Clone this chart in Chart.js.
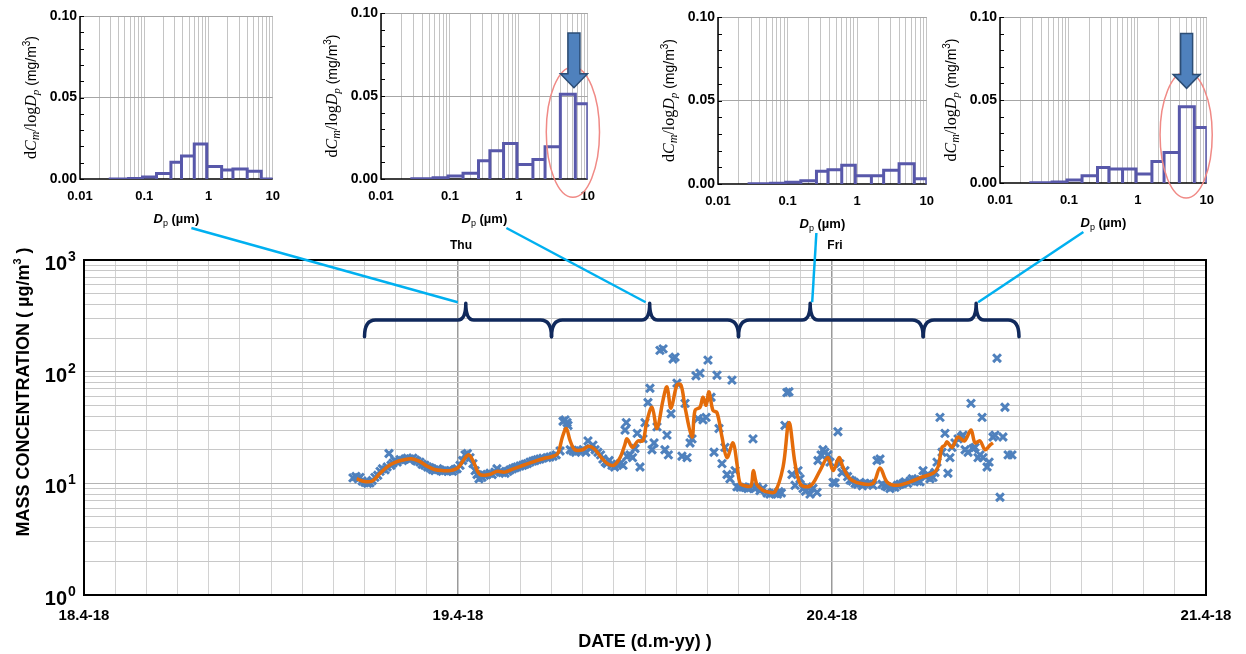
<!DOCTYPE html>
<html lang="en">
<head>
<meta charset="UTF-8">
<title>Mass concentration and size distributions</title>
<script src="https://cdn.jsdelivr.net/npm/chart.js"></script>
<style>
    body { margin: 0; background: #fff; }
    #wrap { position: relative; width: 1246px; height: 654px; overflow: hidden; }
    canvas { position: absolute; top: 0; }
    #main { left: 0; z-index: 1; }
    .inset { z-index: 2; }
</style>
</head>
<body>
<div id="wrap">
    <canvas id="main" width="1246" height="654"></canvas>
</div>
<script>
// ---------- main time series: hours since 18.4.2018 00:00, µg/m³ ----------
const pmHours = [
    17.26, 17.45, 17.60, 17.71, 17.85, 18.03, 18.20, 18.35, 18.50, 18.67,
    18.85, 19.00, 19.15, 19.32, 19.45, 19.57, 19.70, 19.83, 19.95, 20.10,
    20.28, 20.45, 20.60, 20.75, 20.92, 21.10, 21.25, 21.37, 21.56, 21.70,
    21.88, 22.05, 22.20, 22.35, 22.52, 22.70, 22.85, 23.00, 23.17, 23.35,
    23.49, 23.65, 23.80, 23.94, 24.13, 24.30, 24.45, 24.60, 24.77, 24.96,
    25.10, 25.22, 25.35, 25.54, 25.70, 25.86, 26.05, 26.20, 26.37, 26.50,
    26.70, 26.85, 27.02, 27.20, 27.34, 27.50, 27.66, 27.80, 27.98, 28.15,
    28.30, 28.45, 28.62, 28.80, 28.94, 29.10, 29.26, 29.45, 29.71, 29.90,
    30.10, 30.30, 30.55, 30.74, 30.87, 31.00, 31.06, 31.20, 31.38, 31.55,
    31.70, 31.85, 32.02, 32.20, 32.34, 32.50, 32.66, 32.80, 32.98, 33.15,
    33.30, 33.45, 33.56, 33.70, 33.88, 34.05, 34.20, 34.40, 34.59, 34.72,
    34.80, 34.85, 35.04, 35.20, 35.36, 35.50, 35.68, 35.87, 36.00, 36.19,
    36.32, 36.45, 36.58, 36.77, 36.96, 37.16, 37.28, 37.41, 37.50, 37.67,
    37.80, 37.93, 38.05, 38.37, 38.57, 38.70, 38.89, 39.02, 39.27, 39.40,
    39.53, 39.72, 39.92, 40.04, 40.24, 40.43, 40.62, 40.75, 40.94, 41.13,
    41.26, 41.45, 41.58, 41.78, 41.90, 42.10, 42.30, 42.42, 42.60, 42.74,
    42.93, 43.05, 43.19, 43.38, 43.57, 43.83, 44.02, 44.20, 44.34, 44.50,
    44.60, 44.75, 44.98, 45.11, 45.24, 45.43, 45.63, 45.82, 45.95, 46.14,
    46.30, 46.40, 46.59, 46.78, 47.04, 47.10, 47.30, 47.42, 47.55, 47.74,
    47.87, 48.07, 48.20, 48.38, 48.50, 48.64, 48.83, 49.00, 49.16, 49.30,
    49.48, 49.65, 49.80, 49.95, 50.12, 50.30, 50.44, 50.63, 50.89, 51.08,
    51.21, 51.40, 51.53, 51.72, 51.90, 52.04, 52.20, 52.36, 52.56, 52.69,
    52.85, 53.01, 53.15, 53.33, 53.50, 53.65, 53.84, 54.00, 54.16, 54.29,
    54.48, 54.61, 54.74, 54.93, 55.06, 55.25, 55.44, 55.57, 55.70, 55.89,
    56.09, 56.30, 56.41, 56.54, 56.73, 56.92, 57.05, 57.18, 57.37, 57.50,
    57.63, 57.69, 57.95, 58.08, 58.33, 58.46, 58.59, 58.78, 58.97, 59.10,
    59.30, 59.55
];
const pmValues = [
    11.2, 11.5, 11.0, 11.3, 10.5, 10.2, 10.0, 10.1, 10.6, 11.3,
    11.8, 12.8, 13.5, 13.2, 14.0, 18.5, 14.5, 15.2, 16.0, 15.5,
    16.3, 16.0, 16.5, 16.8, 16.5, 16.8, 16.2, 15.8, 15.5, 14.8,
    14.5, 14.0, 13.8, 13.3, 13.0, 13.5, 13.2, 12.8, 13.0, 12.9,
    13.0, 12.8, 13.3, 13.5, 14.5, 16.0, 18.0, 18.5, 17.0, 15.0,
    13.0, 12.0, 11.0, 11.3, 11.8, 12.0, 12.3, 12.0, 12.6, 13.5,
    12.8, 12.5, 12.3, 12.8, 13.2, 13.5, 13.8, 14.0, 14.3, 14.5,
    14.8, 15.0, 15.5, 15.8, 16.0, 16.3, 16.5, 16.8, 17.0, 17.2,
    17.5, 18.0, 19.5, 36.0, 37.0, 35.0, 33.0, 20.0, 19.5, 19.0,
    19.8, 19.5, 20.0, 19.0, 24.0, 20.5, 22.0, 20.0, 19.0, 18.0,
    16.5, 15.5, 15.0, 16.0, 14.5, 14.0, 14.8, 15.0, 14.5, 30.0,
    35.0, 17.5, 18.0, 17.0, 20.5, 28.0, 14.0, 25.0, 35.0, 53.0,
    71.0, 20.0, 23.0, 32.0, 155, 160, 20.0, 27.0, 18.0, 42.0,
    130, 135, 79.0, 17.5, 52.0, 17.0, 23.0, 25.0, 92.0, 38.0,
    97.0, 37.0, 39.0, 127, 59.0, 19.0, 93.0, 31.0, 15.0, 21.0,
    12.0, 11.0, 84.0, 13.0, 9.3, 9.2, 9.3, 9.2, 9.0, 9.1,
    25.0, 9.0, 9.3, 8.6, 9.0, 8.2, 8.0, 8.3, 8.1, 8.0,
    8.4, 8.2, 33.0, 65.0, 66.0, 12.0, 9.6, 13.0, 11.0, 9.0,
    8.5, 9.3, 8.0, 9.0, 8.3, 16.0, 18.0, 20.0, 19.0, 18.0,
    15.5, 10.2, 10.1, 29.0, 15.0, 12.5, 13.0, 11.5, 10.7, 10.5,
    10.0, 9.8, 10.2, 9.5, 10.0, 9.8, 10.0, 9.6, 16.0, 16.5,
    9.8, 9.5, 9.3, 9.0, 9.3, 9.2, 9.6, 9.8, 10.0, 10.3,
    10.0, 10.5, 11.0, 10.8, 10.5, 10.3, 13.0, 11.5, 12.0, 11.0,
    11.3, 12.5, 15.5, 39.0, 19.0, 28.0, 12.3, 17.0, 21.0, 23.0,
    25.0, 26.0, 27.0, 20.0, 19.0, 52.0, 20.5, 21.0, 17.0, 18.0,
    39.0, 17.0, 14.0, 15.5, 26.0, 27.0, 132, 7.5, 26.0, 48.0,
    18.0, 18.0
];
// running mean (orange line)
const avgHours = [
    17.5, 18.0, 18.5, 19.0, 19.5, 20.0, 20.5, 21.0, 21.5, 22.0,
    22.5, 23.0, 23.5, 24.0, 24.4, 24.7, 25.0, 25.4, 26.0, 26.5,
    27.0, 27.5, 28.0, 28.5, 29.0, 29.5, 30.0, 30.4, 30.7, 30.95,
    31.2, 31.5, 32.0, 32.4, 32.8, 33.2, 33.6, 34.0, 34.4, 34.7,
    34.85, 35.2, 35.55, 35.87, 36.1, 36.45, 36.77, 37.16, 37.41, 37.67,
    38.05, 38.31, 38.57, 39.02, 39.21, 39.53, 39.72, 39.92, 40.11, 40.36,
    40.62, 40.94, 41.26, 41.65, 41.9, 42.1, 42.42, 42.8, 42.95, 43.19,
    43.6, 43.83, 44.34, 44.86, 45.24, 45.63, 45.95, 46.4, 46.78, 47.23,
    47.74, 48.07, 48.45, 48.7, 49.16, 49.8, 50.63, 51.08, 51.53, 52.17,
    53.01, 53.78, 54.48, 54.8, 55.06, 55.25, 55.38, 55.7, 56.09, 56.5,
    56.92, 57.18, 57.5, 57.82, 58.14, 58.33
];
const avgValues = [
    11.0, 10.4, 10.5, 12.3, 14.2, 15.5, 16.2, 16.6, 15.8, 14.3,
    13.3, 13.0, 13.0, 13.8, 16.5, 18.0, 15.5, 12.0, 12.0, 12.8,
    12.6, 13.4, 14.2, 15.0, 15.9, 16.7, 17.3, 18.5, 26.0, 31.0,
    24.0, 20.0, 20.0, 21.5, 20.0, 17.0, 15.0, 14.5, 17.0, 22.0,
    25.0, 21.0, 24.0, 24.0, 35.0, 48.0, 31.0, 56.0, 73.0, 47.0,
    76.0, 76.0, 48.0, 26.0, 45.0, 48.0, 59.0, 50.0, 66.0, 45.0,
    43.0, 26.0, 17.0, 23.0, 15.0, 10.0, 9.5, 9.5, 13.0, 9.7,
    8.6, 8.4, 8.4, 14.0, 35.0, 15.0, 10.0, 9.3, 10.0, 13.0,
    17.0, 13.0, 17.0, 14.0, 11.0, 10.0, 10.0, 13.7, 10.3, 9.6,
    10.3, 11.4, 12.3, 14.0, 21.0, 22.0, 23.5, 21.0, 26.0, 24.0,
    30.0, 23.0, 24.0, 20.0, 22.0, 23.0
];
const dateLabels = ['18.4-18', '19.4-18', '20.4-18', '21.4-18'];
const dayMarkHours = [24, 48];
const dayMarkNames = ['Thu', 'Fri'];
const concTicks = [1, 10, 100, 1000];
const concExp = ['0', '1', '2', '3'];
// sampling periods marked by the braces (hours)
const periodStart = [18.0, 30.0, 42.0, 53.85];
const periodEnd = [30.0, 42.0, 53.85, 60.0];
const periodMid = [24.5, 36.3, 46.6, 57.25];

// ---------- size distributions (impactor stages, µm / mg/m³) ----------
const binEdges = [0.028, 0.057, 0.094, 0.155, 0.26, 0.38, 0.6, 0.94, 1.6, 2.4, 4.0, 6.6, 10];
const dist1 = [0, 0.0003, 0.0012, 0.0033, 0.0102, 0.0141, 0.0214, 0.0076, 0.0055, 0.0061, 0.0047, 0];
const dist2 = [0.0002, 0.0008, 0.0018, 0.0034, 0.011, 0.017, 0.0214, 0.0088, 0.0118, 0.0194, 0.051, 0.0454];
const dist3 = [0.0001, 0.0004, 0.001, 0.002, 0.0076, 0.0086, 0.0112, 0.005, 0.005, 0.0082, 0.0122, 0.0032];
const dist4 = [0.0002, 0.0006, 0.0018, 0.0044, 0.0094, 0.0084, 0.0084, 0.0054, 0.013, 0.0183, 0.046, 0.0335];
const sizeTickValues = [0.01, 0.1, 1, 10];
const sizeTickLabels = ['0.01', '0.1', '1', '10'];
const distTickValues = [0, 0.05, 0.1];
const distTickLabels = ['0.00', '0.05', '0.10'];
// coarse mode highlight: ellipse [xMin, xMax, yMin, yMax], arrow [x, yTop, yTip]
const highlightEllipse = [null, [2.5, 14.8, -0.011, 0.0675], null, [2.1, 12, -0.009, 0.067]];
const highlightArrow = [null, [6.3, 0.088, 0.055], null, [5.1, 0.090, 0.057]];

// ---------- layout / style ----------
const SANS = "'Liberation Sans', Arial, sans-serif";
const NARROW = "'Liberation Sans Narrow', 'Arial Narrow', 'Liberation Sans', Arial, sans-serif";
const SERIF = "'Liberation Serif', 'DejaVu Serif', serif";
const insetBoxes = [
    { L: 80, T: 16, R: 275, B: 179 },
    { L: 381, T: 13, R: 590, B: 179 },
    { L: 718, T: 17, R: 929, B: 184 },
    { L: 1000, T: 17, R: 1209, B: 183 }
];
const INSET_H = 235;
const leaderDx = [15, 22, -6, -20];
const leaderEndDx = [-8, -4, 2, 2];
const braceTip = 410, braceBar = 290, braceFoot = 205;

Chart.defaults.color = '#000';
Chart.defaults.font.family = SANS;

function drawRich(ctx, segs, x, y, angle) {
    ctx.save();
    ctx.translate(x, y);
    if (angle) ctx.rotate(angle);
    let w = 0;
    for (const s of segs) { ctx.font = s.font; w += ctx.measureText(s.text).width; }
    let cx = -w / 2;
    ctx.fillStyle = '#000';
    ctx.textAlign = 'left';
    ctx.textBaseline = 'alphabetic';
    for (const s of segs) {
        ctx.font = s.font;
        ctx.fillText(s.text, cx, s.dy || 0);
        cx += ctx.measureText(s.text).width;
    }
    ctx.restore();
}

const distTitle = [
    { text: 'd', font: `16px ${SERIF}` },
    { text: 'C', font: `italic 16px ${SERIF}` },
    { text: 'm', font: `italic 12px ${SERIF}`, dy: 3 },
    { text: '/log', font: `16px ${SERIF}` },
    { text: 'D', font: `italic 16px ${SERIF}` },
    { text: 'p', font: `italic 11px ${SERIF}`, dy: 3 },
    { text: ' (mg/m', font: `14px ${SANS}` },
    { text: '3', font: `10px ${SANS}`, dy: -6 },
    { text: ')', font: `14px ${SANS}` }
];
const sizeTitle = [
    { text: 'D', font: `bold italic 13px ${SANS}` },
    { text: 'p', font: `9px ${SANS}`, dy: 3 },
    { text: ' (µm)', font: `bold 13px ${SANS}` }
];
const concTitle = [
    { text: 'MASS CONCENTRATION ( µg/m', font: `bold 18px ${SANS}` },
    { text: '3', font: `bold 11px ${SANS}`, dy: -8 },
    { text: ' )', font: `bold 18px ${SANS}` }
];

// log grid positions 0.01 .. 10 and 1 .. 1000
const sizeGrid = [];
[0.01, 0.1, 1].forEach(d => { for (let k = 1; k <= 9; k++) sizeGrid.push(+(k * d).toPrecision(3)); });
sizeGrid.push(10);
const concGrid = [];
[1, 10, 100].forEach(d => { for (let k = 1; k <= 9; k++) concGrid.push(k * d); });
concGrid.push(1000);

function findTick(list, v) {
    return list.findIndex(t => Math.abs(t - v) <= Math.abs(t) * 1e-6 + 1e-9);
}

function outlinePoints(edges, h) {
    const pts = [];
    for (let i = 0; i < h.length; i++) {
        pts.push({ x: edges[i], y: 0 }, { x: edges[i], y: h[i] },
                 { x: edges[i + 1], y: h[i] }, { x: edges[i + 1], y: 0 });
    }
    return pts;
}

const insetDecor = {
    id: 'insetDecor',
    beforeDatasetsDraw(chart) {
        const { ctx, chartArea: a } = chart;
        const ys = chart.scales.y;
        ctx.save();
        ctx.strokeStyle = '#000';
        ctx.lineWidth = 1.5;
        ctx.beginPath();
        ctx.moveTo(a.left, a.top);
        ctx.lineTo(a.left, a.bottom);
        ctx.lineTo(a.right, a.bottom);
        ctx.stroke();
        ctx.lineWidth = 1;
        for (const t of ys.ticks) {
            const py = Math.round(ys.getPixelForValue(t.value)) + 0.5;
            ctx.beginPath();
            ctx.moveTo(a.left, py);
            ctx.lineTo(a.left + 4, py);
            ctx.stroke();
        }
        ctx.restore();
    },
    afterDraw(chart, args, opts) {
        const { ctx, chartArea: a } = chart;
        const xs = chart.scales.x, ys = chart.scales.y;
        const i = opts.index;
        drawRich(ctx, distTitle, a.left - 44, (a.top + a.bottom) / 2, -Math.PI / 2);
        drawRich(ctx, sizeTitle, (a.left + a.right) / 2, a.bottom + 44);
        ctx.save();
        const e = highlightEllipse[i];
        if (e) {
            const x0 = xs.getPixelForValue(e[0]), x1 = xs.getPixelForValue(e[1]);
            const y0 = ys.getPixelForValue(e[2]), y1 = ys.getPixelForValue(e[3]);
            ctx.beginPath();
            ctx.ellipse((x0 + x1) / 2, (y0 + y1) / 2, Math.abs(x1 - x0) / 2, Math.abs(y1 - y0) / 2, 0, 0, Math.PI * 2);
            ctx.strokeStyle = '#f08a86';
            ctx.lineWidth = 1.5;
            ctx.stroke();
        }
        const ar = highlightArrow[i];
        if (ar) {
            const cx = xs.getPixelForValue(ar[0]);
            const top = ys.getPixelForValue(ar[1]), tip = ys.getPixelForValue(ar[2]);
            const sw = 6, hw = 13.5, hh = 14;
            ctx.beginPath();
            ctx.moveTo(cx - sw, top);
            ctx.lineTo(cx + sw, top);
            ctx.lineTo(cx + sw, tip - hh);
            ctx.lineTo(cx + hw, tip - hh);
            ctx.lineTo(cx, tip);
            ctx.lineTo(cx - hw, tip - hh);
            ctx.lineTo(cx - sw, tip - hh);
            ctx.closePath();
            ctx.fillStyle = '#4f81bd';
            ctx.fill();
            ctx.strokeStyle = '#2c4d75';
            ctx.lineWidth = 1.5;
            ctx.stroke();
        }
        ctx.restore();
    }
};

const wrap = document.getElementById('wrap');
const insetDists = [dist1, dist2, dist3, dist4];
const insetLeft = insetBoxes.map(b => b.L - 80);

const insetCharts = insetBoxes.map((b, i) => {
    const cv = document.createElement('canvas');
    cv.width = b.R - b.L + 95;
    cv.height = INSET_H;
    cv.className = 'inset';
    cv.style.left = insetLeft[i] + 'px';
    wrap.appendChild(cv);
    return new Chart(cv, {
        type: 'scatter',
        data: {
            datasets: [{
                data: outlinePoints(binEdges, insetDists[i]),
                showLine: true,
                borderColor: '#5858aa',
                borderWidth: 3,
                borderJoinStyle: 'miter',
                pointRadius: 0,
                tension: 0
            }]
        },
        options: {
            responsive: false,
            animation: false,
            layout: { padding: { top: b.T, right: 15, left: 0, bottom: 0 } },
            plugins: {
                legend: { display: false },
                tooltip: { enabled: false },
                insetDecor: { index: i }
            },
            scales: {
                x: {
                    type: 'logarithmic',
                    min: 0.01,
                    max: 10,
                    afterBuildTicks: s => { s.ticks = sizeGrid.map(v => ({ value: v })); },
                    afterFit: s => { s.height = INSET_H - b.B; },
                    border: { display: false },
                    grid: { color: '#c4c4c4', lineWidth: 1, drawTicks: false },
                    ticks: {
                        autoSkip: false,
                        maxRotation: 0,
                        padding: 10,
                        font: { size: 13, weight: 'bold' },
                        callback: v => { const k = findTick(sizeTickValues, v); return k >= 0 ? sizeTickLabels[k] : ''; }
                    }
                },
                y: {
                    min: 0,
                    max: 0.1,
                    afterFit: s => { s.width = 80; },
                    border: { display: false },
                    grid: {
                        drawTicks: false,
                        color: c => (c.tick && c.tick.value > 0.001 && findTick(distTickValues, c.tick.value) >= 0) ? '#a6a6a6' : 'rgba(0,0,0,0)'
                    },
                    ticks: {
                        stepSize: 0.01,
                        autoSkip: false,
                        padding: 3,
                        font: { size: 14, weight: 'bold' },
                        callback: v => { const k = findTick(distTickValues, v); return k >= 0 ? distTickLabels[k] : ''; }
                    }
                }
            }
        },
        plugins: [insetDecor]
    });
});

function drawBrace(ctx, x0, x1, xm, yTip, yBar, yFoot) {
    const r = 11, rt = 8;
    ctx.beginPath();
    ctx.moveTo(x0, yFoot);
    ctx.quadraticCurveTo(x0, yBar, x0 + r, yBar);
    ctx.lineTo(xm - rt, yBar);
    ctx.quadraticCurveTo(xm, yBar, xm, yTip);
    ctx.quadraticCurveTo(xm, yBar, xm + rt, yBar);
    ctx.lineTo(x1 - r, yBar);
    ctx.quadraticCurveTo(x1, yBar, x1, yFoot);
    ctx.stroke();
}

const mainDecor = {
    id: 'mainDecor',
    afterDraw(chart) {
        const { ctx, chartArea: a, scales: { x, y } } = chart;
        ctx.save();
        // frame
        ctx.strokeStyle = '#000';
        ctx.lineWidth = 2;
        ctx.strokeRect(a.left, a.top, a.right - a.left, a.bottom - a.top);
        // 10^n tick labels
        ctx.fillStyle = '#000';
        ctx.textBaseline = 'alphabetic';
        concTicks.forEach((v, k) => {
            const py = y.getPixelForValue(v);
            ctx.font = `bold 20px ${NARROW}`;
            ctx.textAlign = 'right';
            ctx.fillText('10', a.left - 17, py + 10);
            ctx.font = `bold 14px ${NARROW}`;
            ctx.textAlign = 'left';
            ctx.fillText(concExp[k], a.left - 16, py + 1);
        });
        drawRich(ctx, concTitle, 29, 392, -Math.PI / 2);
        // weekday marks
        ctx.font = `bold 12px ${NARROW}`;
        ctx.textAlign = 'center';
        ctx.textBaseline = 'middle';
        dayMarkHours.forEach((h, k) => ctx.fillText(dayMarkNames[k], x.getPixelForValue(h) + 3, a.top - 14));
        // braces for the sampling periods
        const yt = y.getPixelForValue(braceTip), yb = y.getPixelForValue(braceBar), yf = y.getPixelForValue(braceFoot);
        ctx.strokeStyle = '#10295c';
        ctx.lineWidth = 3.5;
        ctx.lineJoin = 'round';
        ctx.lineCap = 'round';
        periodStart.forEach((s, k) => {
            drawBrace(ctx, x.getPixelForValue(s), x.getPixelForValue(periodEnd[k]), x.getPixelForValue(periodMid[k]), yt, yb, yf);
        });
        // leaders from the distribution panels
        ctx.strokeStyle = '#00b0f0';
        ctx.lineWidth = 2.5;
        ctx.lineCap = 'butt';
        insetCharts.forEach((ic, k) => {
            const ia = ic.chartArea;
            const sx = insetLeft[k] + (ia.left + ia.right) / 2 + leaderDx[k];
            const sy = ia.bottom + 49;
            const ex = x.getPixelForValue(periodMid[k]) + leaderEndDx[k];
            const ey = yt - 1;
            ctx.beginPath();
            ctx.moveTo(sx, sy);
            ctx.lineTo(ex, ey);
            ctx.stroke();
        });
        ctx.restore();
    }
};

const mainChart = new Chart(document.getElementById('main'), {
    type: 'scatter',
    data: {
        datasets: [
            {
                label: 'Running mean',
                data: avgHours.map((h, k) => ({ x: h, y: avgValues[k] })),
                showLine: true,
                borderColor: '#e46c0a',
                borderWidth: 3.5,
                pointRadius: 0,
                tension: 0.35
            },
            {
                label: 'Mass concentration',
                data: pmHours.map((h, k) => ({ x: h, y: pmValues[k] })),
                showLine: false,
                pointStyle: 'crossRot',
                pointRadius: 5.5,
                pointBorderWidth: 3,
                pointBorderColor: '#4f81bd',
                pointBackgroundColor: '#4f81bd'
            }
        ]
    },
    options: {
        responsive: false,
        animation: false,
        layout: { padding: { top: 260, right: 40, left: 0, bottom: 0 } },
        plugins: { legend: { display: false }, tooltip: { enabled: false } },
        scales: {
            x: {
                type: 'linear',
                min: 0,
                max: 72,
                afterFit: s => { s.height = 59; },
                border: { display: false },
                grid: {
                    drawTicks: false,
                    color: c => (c.tick && c.tick.value % 24 === 0) ? '#9a9a9a' : '#d2d2d2',
                    lineWidth: c => (c.tick && c.tick.value % 24 === 0) ? 1.5 : 1
                },
                ticks: {
                    stepSize: 2,
                    autoSkip: false,
                    maxRotation: 0,
                    padding: 12,
                    font: { family: NARROW, size: 15, weight: 'bold' },
                    callback: v => v % 24 === 0 ? dateLabels[v / 24] : ''
                },
                title: {
                    display: true,
                    text: 'DATE (d.m-yy) )',
                    font: { size: 18, weight: 'bold' },
                    padding: { top: 0, bottom: 1 }
                }
            },
            y: {
                type: 'logarithmic',
                min: 1,
                max: 1000,
                afterBuildTicks: s => { s.ticks = concGrid.map(v => ({ value: v })); },
                afterFit: s => { s.width = 84; },
                border: { display: false },
                grid: {
                    drawTicks: false,
                    color: c => (c.tick && findTick(concTicks, c.tick.value) >= 0) ? '#b4b4b4' : '#c8c8c8'
                },
                ticks: { display: false }
            }
        }
    },
    plugins: [mainDecor]
});
</script>
</body>
</html>
